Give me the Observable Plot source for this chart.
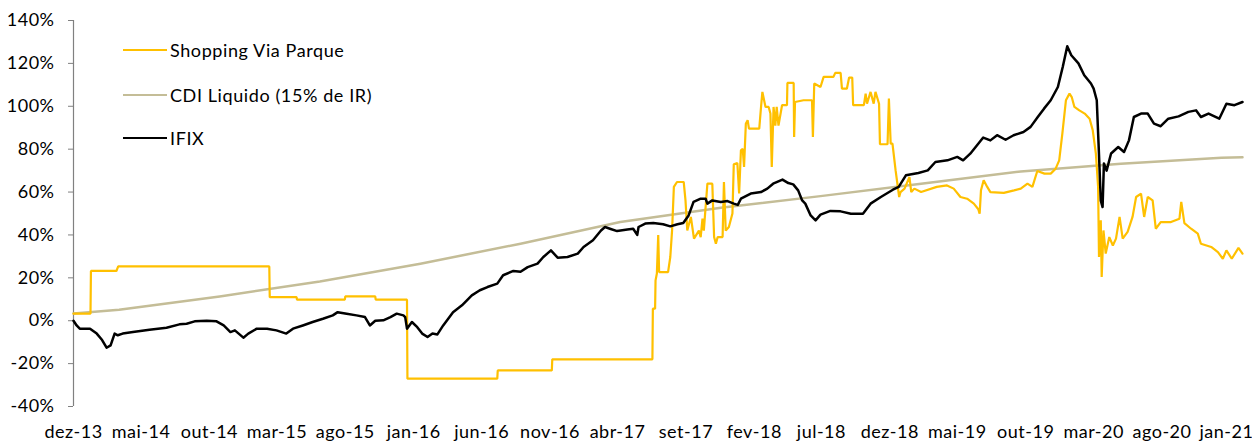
<!DOCTYPE html>
<html>
<head>
<meta charset="utf-8">
<script src="https://cdn.jsdelivr.net/npm/d3@7"></script>
<script src="https://cdn.jsdelivr.net/npm/@observablehq/plot@0.6"></script>
<style>
  html, body { margin: 0; padding: 0; background: #fff; }
  #wrap { position: relative; width: 1252px; height: 442px; font-family: Lato, "Open Sans", sans-serif; }
  #wrap svg text { letter-spacing: 0.5px; }
  .leg { position: absolute; left: 123px; display: flex; align-items: center; font-size: 18px; letter-spacing: 0.6px; color: #000; white-space: nowrap; }
  .leg .sw { width: 44px; margin-right: 3px; }
</style>
</head>
<body>
<div id="wrap"></div>
<script>
// ---- Series names & colours ----
const seriesNames = ["Shopping Via Parque", "CDI Liquido (15% de IR)", "IFIX"];
const seriesColors = ["#FFC000", "#C4BD97", "#000000"];

// ---- X axis ticks (every 5 months) ----
const tickDates = ["2013-12-01","2014-05-01","2014-10-01","2015-03-01","2015-08-01","2016-01-01","2016-06-01","2016-11-01","2017-04-01","2017-09-01","2018-02-01","2018-07-01","2018-12-01","2019-05-01","2019-10-01","2020-03-01","2020-08-01","2021-01-01"];
const tickLabels = ["dez-13","mai-14","out-14","mar-15","ago-15","jan-16","jun-16","nov-16","abr-17","set-17","fev-18","jul-18","dez-18","mai-19","out-19","mar-20","ago-20","jan-21"];
const yTicks = [-40, -20, 0, 20, 40, 60, 80, 100, 120, 140];

// ---- Shopping Via Parque (%) ----
const shopping = [
["2013-12-01",3.3],["2014-01-08",3.3],["2014-01-09",23.2],["2014-03-07",23.2],["2014-03-11",25.3],
["2015-02-12",25.3],["2015-02-13",11],["2015-04-14",11],["2015-04-15",9.8],["2015-07-31",9.8],
["2015-08-01",11.4],["2015-10-07",11.4],["2015-10-08",9.8],["2015-12-17",9.8],["2015-12-18",-27],
["2016-07-06",-27],["2016-07-07",-23.2],["2016-11-05",-23.2],["2016-11-06",-18],["2017-06-18",-18],
["2017-06-19",5.6],["2017-06-24",5.6],["2017-06-25",18.8],["2017-06-28",22],["2017-07-01",40],["2017-07-03",22.7],
["2017-07-23",22.7],["2017-07-28",29.7],["2017-08-01",42.1],["2017-08-05",62.4],["2017-08-12",64.7],
["2017-08-27",64.7],["2017-08-31",56.1],["2017-09-04",42.1],["2017-09-12",48.4],["2017-09-19",38.3],
["2017-09-30",42],["2017-10-04",39],["2017-10-08",47.6],["2017-10-11",42],["2017-10-19",63.9],
["2017-10-30",63.9],["2017-11-03",39],["2017-11-07",35.9],["2017-11-11",39],["2017-11-22",39],
["2017-11-25",64.7],["2017-11-29",42],["2017-12-06",43.7],["2017-12-14",50],["2017-12-17",72.9],
["2017-12-25",73.5],["2017-12-29",59.3],["2018-01-02",79.5],["2018-01-06",80.2],["2018-01-09",71.7],
["2018-01-13",91.9],["2018-01-17",93.5],["2018-01-20",89.6],["2018-02-12",89.6],["2018-02-16",99.7],
["2018-02-19",106.7],["2018-02-26",99.7],["2018-03-05",99.7],["2018-03-09",96.6],["2018-03-12",71.7],
["2018-03-16",99.7],["2018-03-20",91],["2018-03-23",99.7],["2018-03-27",91],["2018-04-04",100.5],
["2018-04-15",100.5],["2018-04-16",110.9],["2018-04-30",110.9],["2018-05-01",85.7],["2018-05-03",102],
["2018-05-22",102.8],["2018-06-10",102.8],["2018-06-12",85.7],["2018-06-15",110.6],["2018-06-29",109],
["2018-07-06",113.7],["2018-07-28",113.7],["2018-08-01",115.6],["2018-08-13",115.6],["2018-08-16",108.2],
["2018-08-27",108.2],["2018-09-01",113.4],["2018-09-08",113.4],["2018-09-10",100.5],["2018-10-04",100.5],
["2018-10-08",105.9],["2018-10-11",101.2],["2018-10-19",106.7],["2018-10-26",101.2],["2018-10-30",106.7],
["2018-11-07",101.2],["2018-11-09",82.3],["2018-11-26",82.3],["2018-11-29",103.6],["2018-12-03",82.6],
["2018-12-07",82.6],["2018-12-14",70.1],["2018-12-22",57.7],["2018-12-25",60],["2019-01-03",61.6],
["2019-01-14",67],["2019-01-18",60],["2019-01-25",61.6],["2019-02-09",60],["2019-03-16",62.4],
["2019-04-08",63.1],["2019-04-23",61.6],["2019-05-08",57.7],["2019-05-23",56.9],["2019-06-07",54.6],
["2019-06-17",52],["2019-06-20",49.9],["2019-06-23",60.8],["2019-06-29",65.5],["2019-07-07",62.4],
["2019-07-14",60],["2019-08-13",59.6],["2019-09-05",60.8],["2019-09-20",61.6],["2019-10-05",63.9],
["2019-10-16",62.4],["2019-10-27",69.8],["2019-11-12",68.6],["2019-11-26",68.6],["2019-12-07",70.9],
["2019-12-15",74.8],["2019-12-22",87.2],["2019-12-30",102.8],["2020-01-07",105.9],["2020-01-12",104.3],
["2020-01-18",99.7],["2020-01-29",98.1],["2020-02-10",96.6],["2020-02-21",94.2],["2020-02-28",88.8],
["2020-03-06",77.9],["2020-03-11",62.4],["2020-03-13",29.7],["2020-03-17",46.8],["2020-03-19",20.4],
["2020-03-23",42.1],["2020-03-28",31.3],["2020-04-05",39],["2020-04-13",35.1],["2020-04-20",38.3],
["2020-04-28",48.4],["2020-05-05",38.3],["2020-05-16",41.4],["2020-05-27",48.4],["2020-06-04",57.7],
["2020-06-15",59.3],["2020-06-22",48.4],["2020-06-30",57.7],["2020-07-11",56.1],["2020-07-18",42.9],
["2020-07-29",46],["2020-08-21",46],["2020-09-09",47.6],["2020-09-13",55.4],["2020-09-20",45.5],
["2020-10-05",42.9],["2020-10-20",40.6],["2020-10-27",35.9],["2020-11-19",34.4],["2020-12-04",32],
["2020-12-15",28.9],["2020-12-23",32.8],["2021-01-04",28.9],["2021-01-19",34],["2021-01-28",31.3]
];

// ---- CDI Liquido (15% de IR) (%) ----
const cdi = [
["2013-12-01",3.4],["2014-03-13",5.1],["2014-10-24",11.3],["2015-06-05",18.3],["2016-01-16",26.6],
["2016-08-27",35.9],["2017-04-07",46],["2017-11-18",52.7],["2018-06-29",58.1],["2019-02-09",63.9],
["2019-09-20",69.6],["2020-05-01",73.2],["2020-12-12",76],["2021-01-28",76.2]
];

// ---- IFIX (%) ----
const ifix = [
["2013-12-01",0],["2013-12-08",-2.2],["2013-12-15",-3.7],["2014-01-07",-3.7],["2014-01-22",-6],
["2014-02-03",-9],["2014-02-13",-12.6],["2014-02-22",-11.5],["2014-03-03",-6],["2014-03-10",-6.8],
["2014-03-21",-6],["2014-04-13",-5.3],["2014-05-20",-4.2],["2014-06-27",-3.3],["2014-07-26",-1.7],
["2014-08-11",-1.4],["2014-08-29",-0.3],["2014-09-25",0],["2014-10-17",-0.3],["2014-11-02",-2.2],
["2014-11-17",-5.3],["2014-11-27",-4.5],["2014-12-16",-7.9],["2014-12-27",-6],["2015-01-15",-3.7],
["2015-02-07",-3.7],["2015-02-28",-4.5],["2015-03-22",-6],["2015-04-06",-3.7],["2015-04-28",-2.2],
["2015-05-20",-0.6],["2015-06-12",0.9],["2015-07-04",2.5],["2015-07-15",4],["2015-08-04",3.3],
["2015-08-26",2.5],["2015-09-14",1.7],["2015-09-25",-2.2],["2015-10-07",0],["2015-10-25",0.2],
["2015-11-10",1.7],["2015-11-24",3.3],["2015-12-09",2.5],["2015-12-13",1.7],["2015-12-17",-3.7],
["2015-12-28",-0.6],["2016-01-09",-3],["2016-01-20",-6],["2016-02-01",-7.6],["2016-02-12",-6],
["2016-02-23",-6.4],["2016-03-07",-2.2],["2016-03-29",4],["2016-04-18",7.2],["2016-05-10",11.8],
["2016-05-28",14.2],["2016-06-14",15.7],["2016-07-06",17.3],["2016-07-19",21.2],["2016-08-11",23.2],
["2016-08-27",22.8],["2016-09-12",25],["2016-10-04",26.6],["2016-10-17",29.7],["2016-11-03",32.8],
["2016-11-18",29.4],["2016-12-10",29.7],["2017-01-02",31.3],["2017-01-15",34.4],["2017-02-05",37.5],
["2017-02-23",42.1],["2017-03-04",43.7],["2017-03-15",42.9],["2017-03-31",41.8],["2017-04-23",42.5],
["2017-05-06",42.9],["2017-05-15",40],["2017-05-18",43.7],["2017-06-02",45.3],["2017-06-20",45.6],
["2017-07-12",45],["2017-07-28",44],["2017-08-13",45],["2017-08-26",45.6],["2017-09-07",49.1],
["2017-09-18",55.4],["2017-10-04",56.9],["2017-10-15",56.9],["2017-10-19",54.6],["2017-10-30",56.1],
["2017-11-18",55.4],["2017-12-03",55.8],["2017-12-17",54.6],["2017-12-26",54],["2018-01-02",56.9],
["2018-01-24",59.3],["2018-02-16",60],["2018-03-02",61.6],["2018-03-15",63.9],["2018-04-05",65.8],
["2018-04-18",64.2],["2018-04-29",63.6],["2018-05-10",60.8],["2018-05-19",56.1],["2018-05-26",54.6],
["2018-06-07",49.1],["2018-06-18",46.8],["2018-06-29",49.5],["2018-07-21",51.2],["2018-08-13",51],
["2018-09-05",49.9],["2018-10-02",49.9],["2018-10-19",54.6],["2018-11-11",57.7],["2018-12-08",61.1],
["2018-12-21",62.4],["2019-01-06",67.8],["2019-02-03",68.9],["2019-02-24",70.1],["2019-03-13",74],
["2019-04-09",74.8],["2019-05-01",76.4],["2019-05-14",74.8],["2019-05-30",77.9],["2019-06-28",85.4],
["2019-07-14",84.1],["2019-07-29",86.5],["2019-08-17",84.4],["2019-09-04",86.5],["2019-09-26",88],
["2019-10-12",90.4],["2019-10-28",95],["2019-11-11",98.9],["2019-11-26",102.8],["2019-12-12",109],
["2019-12-23",118.4],["2020-01-02",128],["2020-01-11",123.8],["2020-01-27",120],["2020-02-09",114.5],
["2020-02-24",110.6],["2020-03-01",108.2],["2020-03-08",102.8],["2020-03-12",82.6],["2020-03-17",56],
["2020-03-21",53],["2020-03-24",73.3],["2020-03-30",70],["2020-04-09",78],["2020-04-25",81],
["2020-05-08",78.7],["2020-05-19",84.1],["2020-05-30",95],["2020-06-15",96.6],["2020-06-30",96.6],
["2020-07-14",91.9],["2020-07-29",90.7],["2020-08-15",94.2],["2020-09-07",95.3],["2020-09-29",97.4],
["2020-10-16",98.1],["2020-10-27",95],["2020-11-13",96.6],["2020-12-07",94.2],["2020-12-23",101.2],
["2021-01-10",100.5],["2021-01-28",102]
];

const xStart = new Date("2013-12-01");
const xEnd = new Date("2021-01-28");
const labelOf = new Map(tickDates.map((d, i) => [new Date(d).getTime(), tickLabels[i]]));
const tickDateObjs = tickDates.map(d => new Date(d));
const px = d => new Date(d[0]);
const py = d => d[1];

const chart = Plot.plot({
  width: 1252,
  height: 442,
  marginLeft: 73,
  marginRight: 10,
  marginTop: 20,
  marginBottom: 36,
  style: { fontFamily: "Lato, 'Open Sans', sans-serif", fontSize: "18px", color: "#000", background: "#fff" },
  x: { type: "utc", domain: [xStart, xEnd] },
  y: { domain: [-40, 140] },
  marks: [
    Plot.axisY({ ticks: yTicks, tickFormat: d => d + "%", tickSize: 5, tickPadding: 14, stroke: "#808080", label: null }),
    Plot.axisX({ ticks: tickDateObjs.slice(0, -1), tickFormat: d => labelOf.get(d.getTime()), tickSize: 0, tickPadding: 19, label: null }),
    Plot.axisX({ ticks: tickDateObjs.slice(-1), tickFormat: d => labelOf.get(d.getTime()), tickSize: 0, tickPadding: 19, dx: -4, label: null }),
    Plot.ruleX([xStart], { y1: -40, y2: 140, stroke: "#808080", strokeWidth: 1.2 }),
    Plot.line(cdi, { x: px, y: py, stroke: seriesColors[1], strokeWidth: 2.5 }),
    Plot.line(shopping, { x: px, y: py, stroke: seriesColors[0], strokeWidth: 2.2, strokeLinejoin: "miter" }),
    Plot.line(ifix, { x: px, y: py, stroke: seriesColors[2], strokeWidth: 2.5 })
  ]
});

const wrap = document.getElementById("wrap");
wrap.appendChild(chart);

// Legend inside the plot area (top-left)
const legendTops = [50, 95, 138];
seriesNames.forEach((name, i) => {
  const row = document.createElement("div");
  row.className = "leg";
  row.style.top = (legendTops[i] - 12) + "px";
  row.style.height = "24px";
  const sw = document.createElement("span");
  sw.className = "sw";
  sw.style.height = (i === 0 ? 2.2 : 2.5) + "px";
  sw.style.background = seriesColors[i];
  const tx = document.createElement("span");
  tx.textContent = name;
  row.appendChild(sw);
  row.appendChild(tx);
  wrap.appendChild(row);
});
</script>
</body>
</html>
